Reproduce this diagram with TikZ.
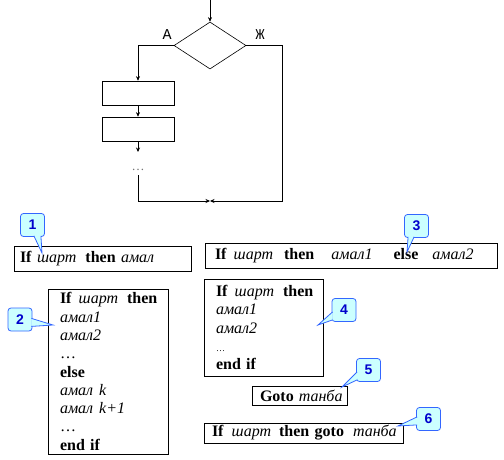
\documentclass[tikz,border=0pt]{standalone}
\usepackage{fontspec}
\setmainfont{Liberation Serif}
\newfontfamily\calloutfont{Liberation Sans}
\newfontfamily\labelfont{Liberation Mono}
\usetikzlibrary{arrows.meta,shapes.geometric,positioning}
\definecolor{clFill}{HTML}{CCFFFF}
\definecolor{clLine}{HTML}{3366FF}
\definecolor{clText}{HTML}{0000CC}
\newcommand{\kw}[1]{\textbf{#1}}
\newcommand{\vr}[1]{\textit{#1}}
\newcommand{\calloutwedge}[3]{%
	\fill[wedge] #1 -- #3 -- #2 -- cycle;
	\draw[wedgeline] #1 -- #3 -- #2;}
\tikzset{
	flow/.style={draw, line width=.6pt, minimum width=72pt, minimum height=24pt, inner sep=0pt},
	stmt/.style={draw, line width=.7pt, align=left, inner ysep=0pt, font=\fontsize{16}{18.3}\selectfont},
	branch/.style={font=\labelfont\fontsize{15}{15}\selectfont},
	callout/.style={draw=clLine, fill=clFill, line width=.8pt, rounded corners=3pt,
		minimum width=24pt, minimum height=23pt, inner sep=0pt,
		font=\calloutfont\bfseries\fontsize{14}{14}\selectfont, text=clText},
	wedge/.style={fill=clFill},
	wedgeline/.style={draw=clLine, line width=.8pt}
}

\begin{document}
\begin{tikzpicture}[x=1pt,y=-1pt,>={Stealth[length=4.5pt,width=4pt]},line width=.6pt]
	\useasboundingbox (0,0) rectangle (504,460);
	% flowchart
	\coordinate (top) at (210,0);
	\node[diamond, draw, minimum width=72pt, minimum height=47pt, inner sep=0pt] (cond) at (210,45.5) {};
	\node[branch] (labA) at (167,35) {А};
	\node[branch] (labZh) at (260,35) {Ж};
	\node[flow] (act1) at (138,93) {};
	\node[flow] (act2) at (138,129) {};
	\coordinate (act3) at (138,152);
	\node[text=black!55, inner sep=4pt, font=\fontsize{13}{13}\selectfont] (dots) at (138,170) {…};
	\coordinate (join) at (210,201);
	
	\draw[->] (top) -- (cond.north);
	\draw[->] (cond.west) -| (act1.north);
	\draw[->] (act1) -- (act2);
	\draw[->] (act2) -- (act3);
	\draw[->] (dots.south) |- (join);
	\draw[->] (cond.east) -- ([xshift=36pt]cond.east) |- (join);
	
	% statements
	\node[stmt, minimum width=177pt, minimum height=25pt, inner xsep=6pt, text width=165pt] (ifSimple) at (102.5,258.5)
		{\mbox{\kw{If} \vr{шарт}\hspace{9pt}\kw{then} \vr{амал}}};
	\node[stmt, minimum width=292pt, minimum height=25pt, inner xsep=10pt, text width=272pt] (ifElse) at (351,255.5)
		{\mbox{\kw{If}\hspace{7pt}\vr{шарт}\hspace{11pt}\kw{then}\hspace{17pt}\vr{амал1}\hspace{21pt}\kw{else}\hspace{14pt}\vr{амал2}}};
	\node[stmt, minimum width=120pt, minimum height=165pt, inner xsep=12pt, text width=96pt] (ifBlock) at (108,371.5)
		{\mbox{\kw{If}\hspace{7pt}\vr{шарт}\hspace{9pt}\kw{then}}\\ \vr{амал1}\\ \vr{амал2}\\ …\\ \kw{else}\\
		 \vr{амал}\hspace{6pt}\vr{k}\\ \vr{амал}\hspace{6pt}\vr{k+1}\\ …\\ \kw{end if}};
	\node[stmt, minimum width=119pt, minimum height=97pt, inner xsep=12pt, text width=95pt] (ifMulti) at (263.5,327.5)
		{\mbox{\kw{If}\hspace{7pt}\vr{шарт}\hspace{9pt}\kw{then}}\\ \vr{амал1}\\ \vr{амал2}\\ {\small…}\\ \kw{end if}};
	\node[stmt, minimum width=95pt, minimum height=19pt, inner xsep=8pt, text width=79pt] (gotoStmt) at (299.5,395.5)
		{\mbox{\kw{Goto}\hspace{5pt}\vr{танба}}};
	\node[stmt, minimum width=199pt, minimum height=20pt, inner xsep=8pt, text width=183pt] (ifGoto) at (303.5,433)
		{\mbox{\kw{If}\hspace{8pt}\vr{шарт}\hspace{8pt}\kw{then goto}\hspace{9pt}\vr{танба}}};
	
	% callouts
	\node[callout] (c1) at (32.5,225) {1};
	\coordinate (tip1) at (42,253);
	\calloutwedge{([shift={(-11pt,1pt)}]c1.south east)}{([shift={(-4pt,1pt)}]c1.south east)}{(tip1)}
	\node[callout] (c2) at (20,319.5) {2};
	\coordinate (tip2) at (53,325);
	\calloutwedge{([shift={(-1pt,13pt)}]c2.south east)}{([shift={(-1pt,5pt)}]c2.south east)}{(tip2)}
	\node[callout] (c3) at (416.5,226) {3};
	\coordinate (tip3) at (407,252);
	\calloutwedge{([shift={(4pt,1pt)}]c3.south west)}{([shift={(10pt,1pt)}]c3.south west)}{(tip3)}
	\node[callout] (c4) at (344,310) {4};
	\coordinate (tip4) at (318,325);
	\calloutwedge{([shift={(1pt,10pt)}]c4.south west)}{([shift={(1pt,2pt)}]c4.south west)}{(tip4)}
	\node[callout] (c5) at (368.5,370) {5};
	\coordinate (tip5) at (342,387);
	\calloutwedge{([shift={(1pt,10pt)}]c5.south west)}{([shift={(1pt,2pt)}]c5.south west)}{(tip5)}
	\node[callout] (c6) at (428.5,419) {6};
	\coordinate (tip6) at (398,426);
	\calloutwedge{([shift={(1pt,14pt)}]c6.south west)}{([shift={(1pt,6pt)}]c6.south west)}{(tip6)}
\end{tikzpicture}
\end{document}
